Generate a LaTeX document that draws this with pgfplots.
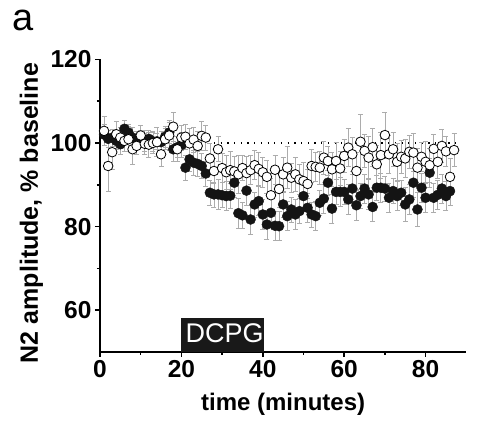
\documentclass[border=0pt]{standalone}
\usepackage{fontspec}
\setmainfont{Liberation Sans}
\usepackage{pgfplots}
\usepackage{pgfplotstable}
\pgfplotsset{compat=1.18}

\pgfplotstableread{
x y e
1 102.9 3.5
2 94.5 6.0
3 97.8 4.0
4 102.1 3.0
5 101.3 2.5
6 100.5 2.5
7 100.9 3.0
8 98.5 3.5
9 99.3 2.0
10 101.8 2.5
11 99.8 2.5
12 99.6 3.0
13 100.0 2.5
14 100.2 3.5
15 97.3 3.0
16 100.9 2.5
17 101.8 3.5
18 103.9 3.5
19 98.5 3.0
20 101.3 3.0
21 101.5 3.0
22 99.9 3.5
23 100.8 3.0
24 99.3 3.5
25 101.7 3.5
26 101.3 3.0
27 96.3 3.5
28 93.3 3.0
29 98.5 3.0
30 94.0 3.5
31 93.0 4.0
32 93.5 4.5
33 93.2 3.5
34 92.5 4.5
35 94.0 3.0
36 92.8 4.0
37 93.5 3.5
38 94.7 3.5
39 93.8 4.0
40 93.0 3.5
41 91.9 4.0
42 87.5 4.0
43 93.6 3.5
44 89.0 4.5
45 92.5 4.0
46 94.1 5.0
47 91.7 3.5
48 92.5 4.0
49 91.3 3.5
50 90.9 4.5
51 90.2 3.5
52 94.5 4.0
53 94.3 3.5
54 94.1 4.0
55 96.5 4.0
56 95.7 3.5
57 93.7 4.0
58 95.7 4.5
59 93.9 4.0
60 96.9 4.0
61 98.9 4.5
62 97.3 4.0
63 93.3 4.5
64 100.3 6.5
65 98.1 4.0
66 96.5 5.0
67 99.0 4.5
68 94.9 4.5
69 97.1 5.5
70 101.9 5.5
71 97.3 4.5
72 98.5 4.0
73 95.5 4.5
74 96.7 4.0
75 96.3 4.5
76 97.9 4.0
77 97.7 4.5
78 94.1 4.5
79 96.7 3.5
80 95.5 5.0
81 94.7 4.0
82 98.6 3.5
83 95.5 4.0
84 99.3 4.0
85 98.0 3.5
86 91.9 4.5
87 98.3 4.0
}\opendata

\pgfplotstableread{
x y e
1 102.0 2.5
2 101.0 2.0
3 101.3 2.0
4 100.5 2.0
5 99.7 2.5
6 103.4 2.0
7 102.5 2.0
8 101.3 2.5
9 100.8 2.0
10 101.0 2.0
11 100.6 2.5
12 101.0 2.0
13 100.4 2.5
14 100.4 2.0
15 100.2 2.5
16 101.5 2.5
17 102.5 2.5
18 98.5 3.0
19 99.0 2.5
20 99.5 3.0
21 94.1 3.0
22 96.1 3.0
23 95.3 3.0
24 95.0 3.0
25 94.5 3.0
26 92.7 3.0
27 88.1 3.0
28 87.7 3.0
29 87.7 3.5
30 87.5 3.0
31 87.3 3.5
32 87.4 3.0
33 90.5 3.5
34 83.2 3.5
35 82.7 3.0
36 88.6 3.5
37 81.7 3.5
38 85.3 3.0
39 86.1 3.5
40 82.9 3.5
41 80.5 3.5
42 83.3 3.5
43 80.2 3.5
44 80.1 3.5
45 85.3 3.0
46 82.5 3.5
47 84.1 3.0
48 82.9 3.5
49 83.7 3.0
50 87.3 3.5
51 84.5 3.5
52 82.9 3.0
53 82.5 3.5
54 85.7 3.0
55 86.7 3.5
56 90.5 3.0
57 84.3 3.5
58 88.3 3.0
59 88.3 3.5
60 88.3 3.0
61 86.5 3.5
62 89.1 3.5
63 85.1 3.5
64 87.3 3.0
65 89.1 3.5
66 87.7 3.5
67 84.7 3.5
68 89.3 3.0
69 89.3 3.5
70 89.1 3.0
71 86.9 3.5
72 88.5 3.0
73 87.3 3.5
74 88.1 3.0
75 85.3 4.0
76 86.5 3.5
77 90.5 3.5
78 84.1 4.0
79 89.3 3.5
80 86.9 3.5
81 92.9 3.5
82 86.9 3.5
83 87.6 3.5
84 89.1 3.5
85 87.3 3.5
86 88.5 3.5
}\filleddata

\begin{document}
\begin{tikzpicture}
\path[use as bounding box] (-100pt,-73pt) rectangle (391pt,352pt);
\begin{axis}[
  at={(0,0)}, anchor=south west,
  x=4.07pt, y=4.18pt,
  xmin=0, xmax=90, ymin=50, ymax=120,
  axis x line*=bottom, axis y line*=left,
  axis line style={-, line width=2.2pt, black},
  xtick={0,20,...,80}, minor xtick={10,30,50,70},
  ytick={60,80,100,120}, minor ytick={70,90,110},
  tick align=outside, major tick length=5pt, minor tick length=3pt,
  every tick/.style={black, line width=1.5pt},
  /pgf/number format/assume math mode=true,
  ticklabel style={font=\fontsize{24.5}{24.5}\selectfont\bfseries},
  xlabel={time (minutes)},
  ylabel={N2 amplitude, \% baseline},
  xlabel style={font=\fontsize{24}{24}\selectfont\bfseries, at={([yshift=-59pt]axis description cs:0.5,0)}, anchor=base},
  ylabel style={font=\fontsize{25}{25}\selectfont\bfseries, at={([xshift=-62pt]axis description cs:0,0.475)}, anchor=base, rotate=0},
  clip=false,
]
\addplot[black, dash pattern=on 1.2pt off 5.5pt, line width=1.2pt] coordinates {(28,100) (88,100)};
\addplot[draw=none, mark=none, error bars/.cd, y dir=both, y explicit,
  error bar style={draw=gray!65, line width=0.7pt},
  error mark options={rotate=90, draw=gray!65, mark size=2.5pt, line width=0.7pt}]
  table[x=x, y=y, y error=e]{\filleddata};
\addplot[draw=none, mark=none, error bars/.cd, y dir=both, y explicit,
  error bar style={draw=gray!65, line width=0.7pt},
  error mark options={rotate=90, draw=gray!65, mark size=2.5pt, line width=0.7pt}]
  table[x=x, y=y, y error=e]{\opendata};
\addplot[only marks, mark=*, mark size=5pt, mark options={fill=black!92, draw=black!92, line width=0.4pt}]
  table[x=x, y=y]{\filleddata};
\addplot[only marks, mark=*, mark size=4.8pt, mark options={fill=white, draw=black, line width=0.8pt}]
  table[x=x, y=y]{\opendata};
\fill[black!90] (axis cs:19.8,50) rectangle (axis cs:40.2,58.2);
\node[anchor=base, text=white, font=\fontsize{27}{27}\selectfont, inner sep=0pt] at ([yshift=9pt]axis cs:30.6,50) {DCPG};
\end{axis}
\node[anchor=base west, font=\fontsize{38}{38}\selectfont, inner sep=0pt, text height=20pt, text depth=0pt] at (-88pt,321pt) {a};
\end{tikzpicture}
\end{document}
